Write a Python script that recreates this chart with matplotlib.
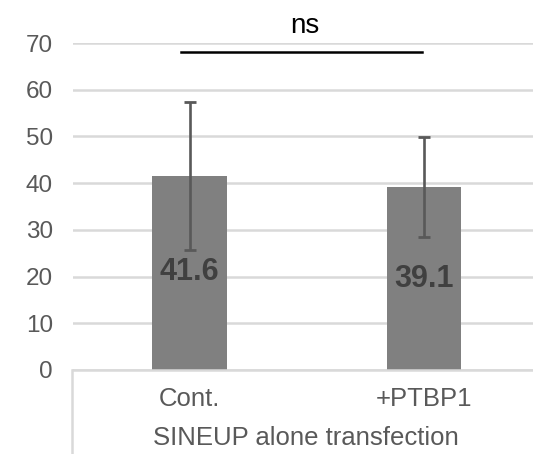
import matplotlib
matplotlib.use("Agg")
import matplotlib.pyplot as plt
from matplotlib.lines import Line2D

categories = ["Cont.", "+PTBP1"]
group_label = "SINEUP alone transfection"
values = [41.6, 39.1]
errors = [15.85, 10.7]
yticks = [0, 10, 20, 30, 40, 50, 60, 70]
sig_text = "ns"

plt.rcParams['font.family'] = ['Liberation Sans', 'DejaVu Sans']

W, H = 533, 454
fig = plt.figure(figsize=(W / 100, H / 100), dpi=100)
left, cat_w, y0, y70 = 72.5, 234.3, 370, 43
ax = fig.add_axes([left / W, (H - y0) / H, 2 * cat_w / W, (y0 - y70) / H])

x = list(range(len(categories)))
ax.set_xlim(-0.5, len(categories) - 0.5)
ax.set_ylim(0, 70)

ax.set_yticks(yticks)
ax.yaxis.grid(True, color='#d9d9d9', linewidth=1.8)
ax.set_axisbelow(True)
ax.tick_params(axis='y', length=0, pad=14, labelsize=17.5, labelcolor='#595959')
ax.tick_params(axis='x', length=0, labelbottom=False)
for s in ['top', 'right', 'left']:
    ax.spines[s].set_visible(False)
ax.spines['bottom'].set_color('#d9d9d9')
ax.spines['bottom'].set_linewidth(1.8)

ax.bar(x, values, width=0.318, color='#808080', zorder=2)
ax.errorbar(x, values, yerr=errors, fmt='none', ecolor='#595959',
            elinewidth=1.9, capsize=4.4, capthick=2.0, zorder=3)

# value labels inside the bars
label_base = [19.3, 17.8]
for xi, v, yb in zip(x, values, label_base):
    ax.text(xi, yb, f"{v:.1f}", ha='center', va='baseline', fontsize=22,
            fontweight='bold', color='#404040', zorder=4)

# category labels below the axis
for xi, c in zip(x, categories):
    ax.annotate(c, xy=(xi, 0), xycoords='data', xytext=(0, -36 * 0.72),
                textcoords='offset points', ha='center', va='baseline',
                fontsize=18.5, color='#595959', annotation_clip=False)
ax.annotate(group_label, xy=(1, 0), xycoords='data',
            xytext=(-(424.5 - 306.5) * 0.72, -75 * 0.72),
            textcoords='offset points', ha='center', va='baseline',
            fontsize=18.5, color='#595959', annotation_clip=False)

# separator line on the left of the category block
fig.add_artist(Line2D([(left - 1) / W, (left - 1) / W], [0, (H - y0) / H],
                      color='#d9d9d9', linewidth=1.8))

# significance bracket
ax.plot([-0.037, 0.993], [68, 68], color='black', linewidth=1.8,
        clip_on=False, zorder=5)
ax.text(0.4925, 72.1, sig_text, ha='center', va='baseline', fontsize=20,
        color='black', clip_on=False)

fig.savefig("out.png", dpi=100)
